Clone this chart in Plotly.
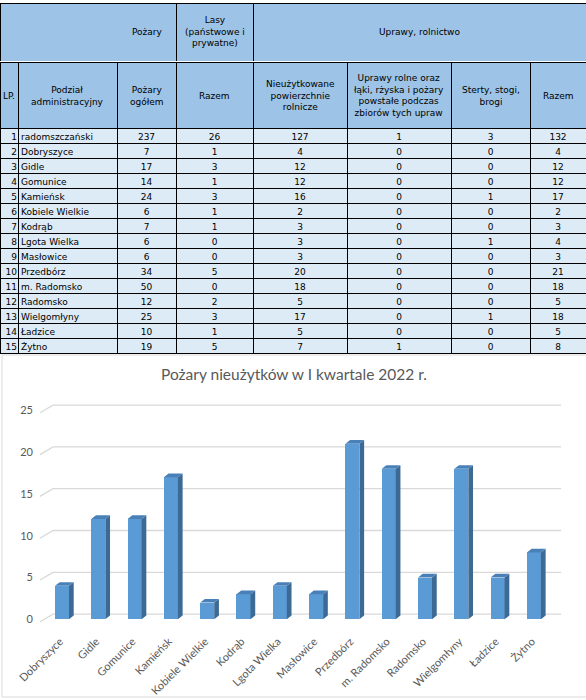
import plotly.graph_objects as go

# ---------------- data ----------------
lp = list(range(1, 16))
units = ["radomszczański", "Dobryszyce", "Gidle", "Gomunice", "Kamieńsk",
         "Kobiele Wielkie", "Kodrąb", "Lgota Wielka", "Masłowice", "Przedbórz",
         "m. Radomsko", "Radomsko", "Wielgomłyny", "Ładzice", "Żytno"]
pozary_ogolem = [237, 7, 17, 14, 24, 6, 7, 6, 6, 34, 50, 12, 25, 10, 19]
lasy_razem = [26, 1, 3, 1, 3, 1, 1, 0, 0, 5, 0, 2, 3, 1, 5]
nieuzytki = [127, 4, 12, 12, 16, 2, 3, 3, 3, 20, 18, 5, 17, 5, 7]
uprawy_rolne = [1, 0, 0, 0, 0, 0, 0, 0, 0, 0, 0, 0, 0, 0, 1]
sterty = [3, 0, 0, 0, 1, 0, 0, 1, 0, 0, 0, 0, 1, 0, 0]
uprawy_razem = [132, 4, 12, 12, 17, 2, 3, 4, 3, 21, 18, 5, 18, 5, 8]

top_headers = ["Pożary", "Lasy<br>(państwowe i<br>prywatne)", "Uprawy, rolnictwo"]
col_headers = ["LP.", "Podział<br>administracyjny", "Pożary<br>ogółem", "Razem",
               "Nieużytkowane<br>powierzchnie<br>rolnicze",
               "Uprawy rolne oraz<br>łąki, rżyska i pożary<br>powstałe podczas<br>zbiorów tych upraw",
               "Sterty, stogi,<br>brogi", "Razem"]

chart_title = "Pożary nieużytków w I kwartale 2022 r."
chart_categories = units[1:]
chart_values = uprawy_razem[1:]
y_ticks = [0, 5, 10, 15, 20, 25]

# ---------------- layout constants ----------------
W, H = 586, 700
HEAD_BG = "#9DC3E6"
CELL_BG = "#DDEBF7"
TFONT = "DejaVu Sans"
col_w = [18, 99, 59, 77, 94, 104, 79, 56]
top_w = [176, 77, 333]
TEXT_UP = 2.5   # px shift of cell text relative to grid
N = len(lp)

def py(px):
    return 1 - px / H

def pxx(px):
    return px / W

fig = go.Figure()

# top header row (merged groups)
fig.add_trace(go.Table(
    domain=dict(x=[0, 1], y=[py(62), py(3)]),
    columnwidth=top_w,
    header=dict(values=["", "", ""], fill_color=HEAD_BG,
                line=dict(color="black", width=1), height=59),
    cells=dict(values=[[], [], []]),
))

# main table grid (fills + borders)
fig.add_trace(go.Table(
    domain=dict(x=[0, 1], y=[py(362), py(62)]),
    columnwidth=col_w,
    header=dict(values=[""] * 8, fill_color=HEAD_BG,
                line=dict(color="black", width=1), height=66),
    cells=dict(values=[[""] * N for _ in col_w],
               fill_color=CELL_BG,
               line=dict(color="black", width=1),
               height=15),
))

# main table text: LP column
fig.add_trace(go.Table(
    domain=dict(x=[0, pxx(25)], y=[py(362), py(62 - TEXT_UP)]),
    header=dict(values=[""], fill_color="rgba(0,0,0,0)",
                line=dict(color="rgba(0,0,0,0)", width=0), height=66),
    cells=dict(values=[lp], fill_color="rgba(0,0,0,0)",
               line=dict(color="rgba(0,0,0,0)", width=0), align="right",
               font=dict(family=TFONT, size=9, color="black"), height=15),
))
# main table text: remaining columns
fig.add_trace(go.Table(
    domain=dict(x=[pxx(13), 1], y=[py(362), py(62 - TEXT_UP)]),
    columnwidth=[104] + col_w[2:],
    header=dict(values=[""] * 7, fill_color="rgba(0,0,0,0)",
                line=dict(color="rgba(0,0,0,0)", width=0), height=66),
    cells=dict(values=[units, pozary_ogolem, lasy_razem, nieuzytki,
                       uprawy_rolne, sterty, uprawy_razem],
               fill_color="rgba(0,0,0,0)",
               line=dict(color="rgba(0,0,0,0)", width=0),
               align=["left", "center", "center", "center", "center", "center", "center"],
               font=dict(family=TFONT, size=9, color="black"),
               height=15),
))

annotations = []
top_cx = [147.5, 214.5, 419.5]
for t, cx in zip(top_headers, top_cx):
    annotations.append(dict(x=pxx(cx), y=py(32), xref="paper", yref="paper",
                            text=t, showarrow=False, xanchor="center", yanchor="middle",
                            font=dict(family=TFONT, size=9, color="black")))
edges = [0]
for w in col_w:
    edges.append(edges[-1] + w)
for i, t in enumerate(col_headers):
    cx = (edges[i] + edges[i + 1]) / 2
    annotations.append(dict(x=pxx(cx), y=py(96), xref="paper", yref="paper",
                            text=t, showarrow=False, xanchor="center", yanchor="middle",
                            font=dict(family=TFONT, size=9, color="black")))

# ---------------- 3D-like column chart ----------------
xs = list(range(len(chart_categories)))
BAR_W = 0.386
DX = 0.13
DY = 0.44

x_front = -0.606
x_back = x_front + 0.358
x_right = 13.75
shapes = [dict(type="rect", xref="paper", yref="paper", x0=pxx(2), x1=1.02,
               y0=py(697), y1=py(355), line=dict(color="#D9D9D9", width=1), layer="below")]
for v in y_ticks:
    shapes.append(dict(type="path", xref="x", yref="y", layer="below",
                       path=f"M{x_front},{v - 0.3} L{x_back},{v + 0.62} L{x_right},{v + 0.62}",
                       line=dict(color="#D9D9D9", width=1.3)))

fig.add_trace(go.Bar(x=xs, y=chart_values, width=BAR_W, marker=dict(color="#5B9BD5", line=dict(width=0)),
                     showlegend=False))

sx, sy, tx, ty = [], [], [], []
for x, v in zip(xs, chart_values):
    r = x + BAR_W / 2
    l = x - BAR_W / 2
    sx += [r, r + DX, r + DX, r, r, None]
    sy += [0, DY, v + DY, v, 0, None]
    tx += [l, l + DX, r + DX, r, l, None]
    ty += [v, v + DY, v + DY, v, v, None]
fig.add_trace(go.Scatter(x=sx, y=sy, mode="lines", fill="toself", fillcolor="#3D6A94",
                         line=dict(width=0, color="#3D6A94"), hoverinfo="skip", showlegend=False))
fig.add_trace(go.Scatter(x=tx, y=ty, mode="lines", fill="toself", fillcolor="#4A80B8",
                         line=dict(width=0, color="#4A80B8"), hoverinfo="skip", showlegend=False))

fig.update_layout(
    width=W, height=H,
    autosize=False,
    margin=dict(l=0, r=0, t=0, b=0, pad=0, autoexpand=False),
    paper_bgcolor="white", plot_bgcolor="rgba(0,0,0,0)",
    annotations=annotations,
    shapes=shapes,
    title=dict(text=chart_title, x=pxx(294), y=py(375), xanchor="center", yanchor="middle",
               xref="paper", yref="paper", automargin=False,
               font=dict(family="Lato", size=15.5, color="#595959")),
    xaxis=dict(domain=[pxx(34), 1], range=[-0.771, 14.435], automargin=False,
               tickvals=xs, ticktext=chart_categories, tickangle=-45,
               ticklabelshift=-2, ticklabelstandoff=2,
               showgrid=False, zeroline=False, showline=False, ticks="",
               tickfont=dict(family="Lato", size=11, color="#595959")),
    yaxis=dict(domain=[py(630), py(395)], range=[-1.28, 26.83], automargin=False,
               tickvals=y_ticks, showgrid=False, zeroline=False, showline=False, ticks="",
               tickfont=dict(family="Lato", size=11, color="#595959")),
    bargap=0,
)

fig.write_html("out.html", config={"displayModeBar": False},
               post_script="document.body.style.margin='0px';")
